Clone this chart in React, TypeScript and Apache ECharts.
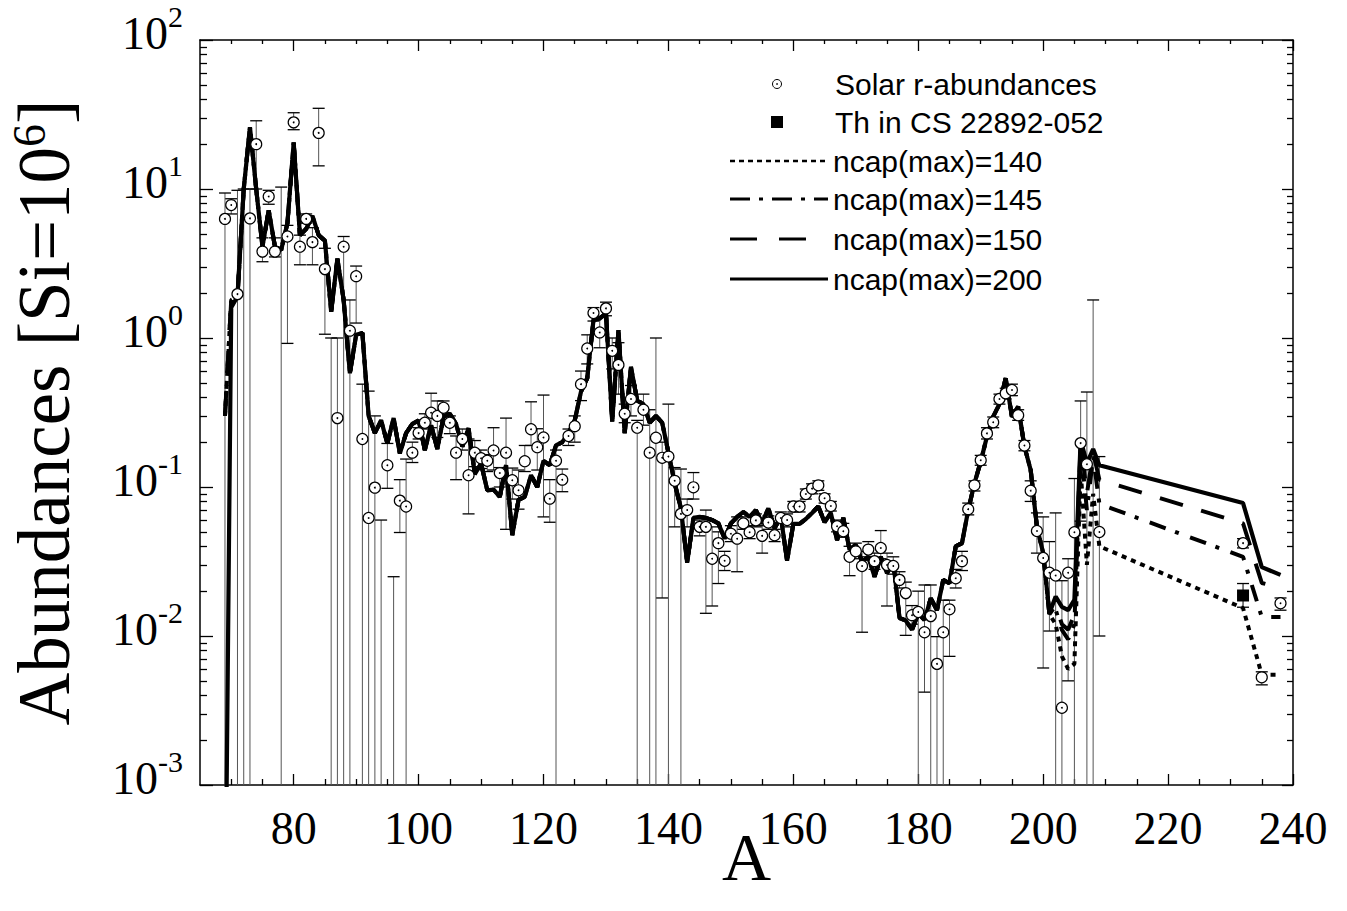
import React, { useEffect, useRef } from "react";
import * as echarts from "echarts";

// ---------- Solar r-process abundances (A, value, error low, error high) ----------
// values of 0.0005 / 0.0001 lie below the plotted range (points/bars running off the bottom)
const solarA = [
  69, 70, 71, 72, 73, 74, 75, 76, 77, 78, 79, 80, 81, 82, 83, 84, 85, 86, 87, 88, 89, 90,
  91, 92, 93, 94, 95, 96, 97, 98, 99, 100, 101, 102, 103, 104, 105, 106, 107, 108, 109, 110,
  111, 112, 113, 114, 115, 116, 117, 118, 119, 120, 121, 122, 123, 124, 125, 126, 127, 128,
  129, 130, 131, 132, 133, 134, 135, 136, 137, 138, 139, 140, 141, 142, 143, 144, 145, 146,
  147, 148, 149, 150, 151, 152, 153, 154, 155, 156, 157, 158, 159, 160, 161, 162, 163, 164,
  165, 166, 167, 168, 169, 170, 171, 172, 173, 174, 175, 176, 177, 178, 179, 180, 181, 182,
  183, 184, 185, 186, 187, 188, 189, 190, 191, 192, 193, 194, 195, 196, 197, 198, 199, 200,
  201, 202, 203, 204, 205, 206, 207, 208, 209, 232, 235, 238,
];
const solarVal = [
  6.3, 7.8, 1.97, 0.0005, 6.35, 20, 3.8, 8.9, 3.8, 0.0005, 4.8, 28, 4.1, 6.3, 4.4, 23.8, 2.9, 0.0005, 0.29, 4.1, 1.12, 2.6,
  0.21, 0.062, 0.099, 0.0005, 0.14, 0.0005, 0.081, 0.074, 0.17, 0.23, 0.27, 0.315, 0.3, 0.34, 0.27, 0.17, 0.21, 0.12, 0.17, 0.156,
  0.15, 0.176, 0.124, 0.17, 0.111, 0.095, 0.149, 0.244, 0.185, 0.215, 0.0835, 0.15, 0.112, 0.22, 0.256, 0.49, 0.85, 1.47,
  1.09, 1.58, 0.82, 0.66, 0.31, 0.39, 0.25, 0.33, 0.17, 0.214, 0.157, 0.16, 0.11, 0.066, 0.07, 0.0995, 0.054, 0.054,
  0.033, 0.042, 0.032, 0.0486, 0.045, 0.057, 0.0497, 0.0597, 0.047, 0.0577, 0.0474, 0.062, 0.06, 0.074, 0.074, 0.0897, 0.0975, 0.1026,
  0.084, 0.0745, 0.0545, 0.0505, 0.034, 0.037, 0.0295, 0.038, 0.0318, 0.039, 0.03, 0.0295, 0.0238, 0.0194, 0.0138, 0.0145, 0.0106, 0.0136,
  0.0065, 0.0106, 0.0151, 0.0244, 0.0318, 0.071, 0.1026, 0.151, 0.229, 0.272, 0.39, 0.425, 0.448, 0.303, 0.19, 0.0945, 0.0507, 0.0334,
  0.0266, 0.0255, 0.0033, 0.0266, 0.0497, 0.197, 0.142, 0.0005, 0.0499, 0.042, 0.00528, 0.0166,
];
const solarLo = [
  0.0001, 6.8, 0.0001, 0.0001, 0.0001, 10, 3.25, 7.9, 3.5, 0.0001, 0.92, 25, 3.1, 5.9, 3.1, 14.3, 1.06, 0.0001, 0.0001, 0.0001, 0.0001, 1.26,
  0.0001, 0.0001, 0.0001, 0.0001, 0.098, 0.0001, 0.0495, 0.0001, 0.146, 0.21, 0.245, 0.25, 0.215, 0.28, 0.228, 0.112, 0.177, 0.066, 0.137, 0.133,
  0.127, 0.13, 0.1, 0.052, 0.083, 0.071, 0.127, 0.19, 0.13, 0.063, 0.058, 0.0001, 0.093, 0.19, 0.2, 0.38, 0.67, 1.3,
  0.86, 1.41, 0.62, 0.42, 0.27, 0.3, 0.0001, 0.26, 0.0001, 0.0001, 0.018, 0.0001, 0.054, 0.0001, 0.054, 0.083, 0.047, 0.0142,
  0.0159, 0.0225, 0.0275, 0.043, 0.027, 0.052, 0.045, 0.054, 0.036, 0.052, 0.043, 0.057, 0.054, 0.068, 0.068, 0.083, 0.09, 0.095,
  0.078, 0.069, 0.05, 0.046, 0.0254, 0.033, 0.0106, 0.034, 0.028, 0.033, 0.0159, 0.026, 0.021, 0.0101, 0.012, 0.0001, 0.0042, 0.0001,
  0.0001, 0.0001, 0.0073, 0.021, 0.0275, 0.065, 0.094, 0.14, 0.21, 0.25, 0.36, 0.39, 0.41, 0.28, 0.175, 0.08, 0.036, 0.0061,
  0.0108, 0.0001, 0.0001, 0.005, 0.0001, 0.059, 0.0001, 0.0001, 0.01, 0.039, 0.0047, 0.0149,
];
const solarHi = [
  9.4, 8.6, 9.8, 10, 10, 28.7, 4.7, 9.8, 4.7, 10.3, 5.7, 32.5, 4.9, 6.8, 5.5, 34.8, 4.0, 1.0, 1.0, 4.8, 1.8, 3.04,
  0.49, 0.44, 0.3, 0.06, 0.196, 0.025, 0.112, 0.154, 0.2, 0.25, 0.31, 0.426, 0.378, 0.378, 0.3, 0.22, 0.245, 0.21, 0.205, 0.177,
  0.165, 0.25, 0.135, 0.29, 0.134, 0.13, 0.19, 0.373, 0.246, 0.414, 0.112, 0.177, 0.132, 0.245, 0.3, 0.6, 1.05, 1.6,
  1.4, 1.74, 1.0, 0.93, 0.36, 0.48, 0.28, 0.42, 0.33, 1.0, 0.2, 0.36, 0.135, 0.132, 0.083, 0.125, 0.06, 0.07,
  0.054, 0.05, 0.037, 0.055, 0.063, 0.063, 0.055, 0.066, 0.055, 0.064, 0.052, 0.068, 0.066, 0.08, 0.08, 0.097, 0.105, 0.11,
  0.09, 0.08, 0.06, 0.057, 0.04, 0.042, 0.037, 0.043, 0.036, 0.051, 0.036, 0.034, 0.027, 0.023, 0.016, 0.02, 0.022, 0.022,
  0.0099, 0.0174, 0.0174, 0.028, 0.037, 0.078, 0.11, 0.163, 0.25, 0.295, 0.42, 0.46, 0.49, 0.33, 0.205, 0.11, 0.067, 0.063,
  0.043, 0.067, 0.0235, 0.033, 0.114, 0.378, 0.434, 1.8, 0.16, 0.045, 0.00575, 0.018,
];

// ---------- Th in CS 22892-052 ----------
const thA = [232];
const thVal = [0.0187];
const thLo = [0.0156];
const thHi = [0.0225];

// ---------- r-process model curves ----------
const headA = [69, 70];
const commonA = [
  71, 72, 73, 74, 75, 76, 77, 78, 79, 80, 81, 82, 83, 84, 85, 86, 87, 88, 89, 90,
  91, 92, 93, 94, 95, 96, 97, 98, 99, 100, 101, 102, 103, 104, 105, 106, 107, 108, 109, 110,
  111, 112, 113, 114, 115, 116, 117, 118, 119, 120, 121, 122, 123, 124, 125, 126, 127, 128, 129, 130,
  131, 132, 133, 134, 135, 136, 137, 138, 139, 140, 141, 142, 143, 144, 145, 146, 147, 148, 149, 150,
  151, 152, 153, 154, 155, 156, 157, 158, 159, 160, 161, 162, 163, 164, 165, 166, 167, 168, 169, 170,
  171, 172, 173, 174, 175, 176, 177, 178, 179, 180, 181, 182, 183, 184, 185, 186, 187, 188, 189, 190,
  191, 192, 193, 194, 195, 196, 197, 198, 199, 200,
];
const commonVal = [
  1.9, 10, 26, 10, 4.1, 7.2, 4.1, 3.9, 5.9, 20.5, 4.9, 5.4, 6.6, 4.9, 4.5, 1.5, 3.4, 1.8, 0.58, 1.05,
  1.08, 0.3, 0.23, 0.28, 0.196, 0.29, 0.168, 0.23, 0.265, 0.28, 0.177, 0.26, 0.18, 0.297, 0.31, 0.265, 0.187, 0.248, 0.122, 0.144,
  0.095, 0.096, 0.086, 0.14, 0.0476, 0.082, 0.086, 0.12, 0.1, 0.15, 0.14, 0.19, 0.2, 0.23, 0.28, 0.436, 0.537, 1.32, 1.35, 1.47,
  0.275, 1.13, 0.23, 0.64, 0.38, 0.36, 0.27, 0.3, 0.27, 0.17, 0.106, 0.072, 0.031, 0.062, 0.063, 0.062, 0.06, 0.057, 0.045, 0.057,
  0.063, 0.068, 0.063, 0.07, 0.057, 0.072, 0.053, 0.063, 0.032, 0.0565, 0.0565, 0.061, 0.067, 0.074, 0.058, 0.067, 0.044, 0.062, 0.0378, 0.041,
  0.0315, 0.034, 0.025, 0.034, 0.0264, 0.0315, 0.0132, 0.0127, 0.011, 0.0142, 0.0128, 0.0179, 0.0149, 0.0238, 0.0226, 0.04, 0.042, 0.07, 0.106, 0.148,
  0.218, 0.297, 0.36, 0.537, 0.297, 0.346, 0.187, 0.13, 0.054, 0.036,
];
const tailA = [201, 202, 203, 204, 205, 206, 207, 208, 209, 232, 235, 238];

const head140 = [0.3, 1.8];
const head145 = [0.3, 1.8];
const head150 = [0.3, 1.8];
const head200 = [0.000066, 1.6];

const tail140 = [0.014, 0.012, 0.0073, 0.006, 0.0065, 0.13, 0.03, 0.09, 0.04, 0.0154, 0.0055, 0.0055];
const tail145 = [0.014, 0.015, 0.011, 0.0095, 0.012, 0.19, 0.07, 0.16, 0.077, 0.034, 0.0134, 0.0134];
const tail150 = [0.014, 0.016, 0.012, 0.011, 0.014, 0.2, 0.09, 0.17, 0.112, 0.057, 0.0227, 0.021];
const tail200 = [0.0142, 0.0184, 0.0157, 0.0149, 0.0175, 0.207, 0.144, 0.18, 0.14, 0.078, 0.029, 0.0257];

// ---------- axis ticks ----------
const xMajor = [80, 100, 120, 140, 160, 180, 200, 220, 240];
const xMinor = [
  70, 75, 85, 90, 95, 105, 110, 115, 125, 130, 135, 145, 150, 155, 165, 170, 175, 185, 190,
  195, 205, 210, 215, 225, 230, 235,
];
const yMajor = [0.001, 0.01, 0.1, 1, 10, 100];
const yMinorMult = [2, 3, 4, 5, 6, 7, 8, 9];

const legendNames = [
  "ncap(max)=140",
  "ncap(max)=145",
  "ncap(max)=150",
  "ncap(max)=200",
];

function pairs(xs: number[], ys: number[]) {
  return xs.map((x, i) => [x, ys[i]]);
}
function model(head: number[], tail: number[]) {
  return [
    ...pairs(headA, head),
    ...pairs(commonA, commonVal),
    ...pairs(tailA, tail),
  ];
}

export default function App() {
  const ref = useRef<HTMLDivElement>(null);

  useEffect(() => {
    const chart = echarts.init(ref.current!, null, { renderer: "svg" });
    const yMinor: number[] = [];
    yMajor.slice(0, -1).forEach((d) => yMinorMult.forEach((m) => yMinor.push(+(d * m).toPrecision(3))));

    const serif = "Liberation Serif";
    const sans = "Liberation Sans";
    const XMIN = 65;
    const XMAX = 240;
    const YMIN = 0.001;
    const YMAX = 100;

    const baseX = {
      type: "value",
      min: XMIN,
      max: XMAX,
      splitLine: { show: false },
    };
    const baseY = {
      type: "log",
      logBase: 10,
      min: YMIN,
      max: YMAX,
      splitLine: { show: false },
    };
    const tickLine = { color: "#000", width: 1.3 };

    const lineStyles: any[] = [
      { type: [5, 5], width: 4 },
      { type: [17, 10, 4, 12], width: 4 },
      { type: [24, 19], width: 4 },
      { type: "solid", width: 4.2 },
    ];
    const modelData = [
      model(head140, tail140),
      model(head145, tail145),
      model(head150, tail150),
      model(head200, tail200),
    ];

    const errData = solarA.map((a, i) => [a, solarLo[i], solarHi[i]]);
    const thErr = thA.map((a, i) => [a, thLo[i], thHi[i]]);

    const errRender = (stroke: string) => (params: any, api: any) => {
      const a = api.value(0);
      const pLo = api.coord([a, api.value(1)]);
      const pHi = api.coord([a, api.value(2)]);
      const cw = 6;
      return {
        type: "group",
        children: [
          { type: "line", shape: { x1: pHi[0], y1: pHi[1], x2: pLo[0], y2: pLo[1] }, style: { stroke, lineWidth: 1 } },
          { type: "line", shape: { x1: pHi[0] - cw, y1: pHi[1], x2: pHi[0] + cw, y2: pHi[1] }, style: { stroke: "#000", lineWidth: 1.3 } },
          { type: "line", shape: { x1: pLo[0] - cw, y1: pLo[1], x2: pLo[0] + cw, y2: pLo[1] }, style: { stroke: "#000", lineWidth: 1.3 } },
        ],
      };
    };

    // legend graphics
    const legX1 = 730;
    const legX2 = 828;
    const legTextX = 833;
    const rowY = [84, 122, 161, 199, 239, 279];
    const legendFont = { fontSize: 30, fontFamily: sans, fill: "#000" };
    const legendLineStyles = [
      { lineDash: [5, 4], lineWidth: 2.5 },
      { lineDash: [20, 9, 4, 9], lineWidth: 3 },
      { lineDash: [27, 22], lineWidth: 3 },
      { lineDash: null, lineWidth: 3 },
    ];
    const graphic: any[] = [
      { type: "circle", shape: { cx: 777, cy: rowY[0], r: 4.5 }, style: { fill: "#fff", stroke: "#000", lineWidth: 1 } },
      { type: "circle", shape: { cx: 777, cy: rowY[0], r: 0.8 }, style: { fill: "#000" } },
      { type: "text", x: legTextX + 2, y: rowY[0], style: { text: "Solar r-abundances", ...legendFont, verticalAlign: "middle" } },
      { type: "rect", shape: { x: 771, y: rowY[1] - 6, width: 12, height: 12 }, style: { fill: "#000" } },
      { type: "text", x: legTextX + 2, y: rowY[1], style: { text: "Th in CS 22892-052", ...legendFont, verticalAlign: "middle" } },
    ];
    legendNames.forEach((nm, i) => {
      const y = rowY[i + 2];
      graphic.push({
        type: "line",
        shape: { x1: legX1, y1: y, x2: legX2, y2: y },
        style: { stroke: "#000", ...legendLineStyles[i] },
      });
      graphic.push({
        type: "text",
        x: legTextX,
        y,
        style: { text: nm, ...legendFont, verticalAlign: "middle" },
      });
    });

    const option: any = {
      animation: false,
      backgroundColor: "#fff",
      grid: {
        left: 200,
        top: 40,
        right: 54,
        bottom: 126,
        containLabel: false,
        outerBoundsMode: "none",
      },
      xAxis: [
        {
          ...baseX,
          position: "bottom",
          axisLine: { show: true, lineStyle: { color: "#000", width: 1.5 } },
          axisTick: { show: true, inside: true, length: 11, customValues: xMajor, lineStyle: tickLine },
          axisLabel: {
            customValues: xMajor,
            fontSize: 46,
            fontFamily: serif,
            color: "#000",
            lineHeight: 34,
            margin: 26,
          },
          name: "A",
          nameLocation: "middle",
          nameGap: 60,
          nameMoveOverlap: false,
          nameTextStyle: { fontSize: 68, fontFamily: serif, color: "#000", lineHeight: 24 },
        },
        {
          ...baseX,
          position: "bottom",
          axisLine: { show: false },
          axisTick: { show: true, inside: true, length: 6, customValues: xMinor, lineStyle: tickLine },
          axisLabel: { show: false, customValues: xMinor },
        },
        {
          ...baseX,
          position: "top",
          axisLine: { show: true, lineStyle: { color: "#000", width: 1.5 } },
          axisTick: { show: true, inside: true, length: 11, customValues: xMajor, lineStyle: tickLine },
          axisLabel: { show: false, customValues: xMajor },
        },
        {
          ...baseX,
          position: "top",
          axisLine: { show: false },
          axisTick: { show: true, inside: true, length: 4, customValues: xMinor, lineStyle: tickLine },
          axisLabel: { show: false, customValues: xMinor },
        },
      ],
      yAxis: [
        {
          ...baseY,
          position: "left",
          axisLine: { show: true, lineStyle: { color: "#000", width: 1.5 } },
          axisTick: { show: true, inside: true, length: 13, lineStyle: tickLine },
          axisLabel: {
            margin: 17,
            padding: [0, 0, 14, 0],
            formatter: (v: number) => `{b|10}{s|${Math.round(Math.log10(v))}}`,
            rich: {
              b: { fontSize: 46, fontFamily: serif, color: "#000", lineHeight: 64 },
              s: { fontSize: 30, fontFamily: serif, color: "#000", lineHeight: 30, verticalAlign: "top" },
            },
          },
          name: "{a|Abundances [Si=10}{s|6}{a|]}",
          nameLocation: "middle",
          nameRotate: 90,
          nameGap: 118,
          nameTextStyle: {
            rich: {
              a: { fontSize: 73, fontFamily: serif, color: "#000", lineHeight: 76 },
              s: { fontSize: 46, fontFamily: serif, color: "#000", lineHeight: 44, verticalAlign: "top" },
            },
          },
        },
        {
          ...baseY,
          position: "left",
          axisLine: { show: false },
          axisTick: { show: true, inside: true, length: 7, customValues: yMinor, lineStyle: tickLine },
          axisLabel: { show: false },
        },
        {
          ...baseY,
          position: "right",
          axisLine: { show: true, lineStyle: { color: "#000", width: 1.5 } },
          axisTick: { show: true, inside: true, length: 11, lineStyle: tickLine },
          axisLabel: { show: false },
        },
        {
          ...baseY,
          position: "right",
          axisLine: { show: false },
          axisTick: { show: true, inside: true, length: 6, customValues: yMinor, lineStyle: tickLine },
          axisLabel: { show: false },
        },
      ],
      series: [
        {
          type: "custom",
          name: "errors",
          clip: true,
          z: 1,
          xAxisIndex: 0,
          yAxisIndex: 0,
          encode: { x: 0, y: [1, 2] },
          data: errData,
          renderItem: errRender("#555"),
        },
        ...legendNames.map((nm, i) => ({
          type: "line",
          name: nm,
          xAxisIndex: 0,
          yAxisIndex: 0,
          data: modelData[i],
          showSymbol: false,
          symbol: "none",
          clip: true,
          z: 2 + i * 0.1,
          lineStyle: { color: "#000", ...lineStyles[i] },
        })),
        {
          type: "custom",
          name: "Solar r-abundances",
          clip: true,
          z: 4,
          xAxisIndex: 0,
          yAxisIndex: 0,
          encode: { x: 0, y: 1 },
          data: pairs(solarA, solarVal),
          renderItem: (params: any, api: any) => {
            const p = api.coord([api.value(0), api.value(1)]);
            return {
              type: "group",
              children: [
                { type: "circle", shape: { cx: p[0], cy: p[1], r: 5.5 }, style: { fill: "#fff", stroke: "#000", lineWidth: 1.2 } },
                { type: "circle", shape: { cx: p[0], cy: p[1], r: 0.9 }, style: { fill: "#000" } },
              ],
            };
          },
        },
        {
          type: "custom",
          name: "Th errors",
          clip: true,
          z: 5,
          xAxisIndex: 0,
          yAxisIndex: 0,
          encode: { x: 0, y: [1, 2] },
          data: thErr,
          renderItem: errRender("#000"),
        },
        {
          type: "scatter",
          name: "Th in CS 22892-052",
          xAxisIndex: 0,
          yAxisIndex: 0,
          z: 6,
          symbol: "rect",
          symbolSize: 12,
          itemStyle: { color: "#000", opacity: 1 },
          data: pairs(thA, thVal),
        },
      ],
      graphic,
    };

    chart.setOption(option);
    return () => chart.dispose();
  }, []);

  return (
    <div
      ref={ref}
      style={{ position: "fixed", left: 0, top: 0, width: 1347, height: 911, background: "#fff" }}
    />
  );
}
